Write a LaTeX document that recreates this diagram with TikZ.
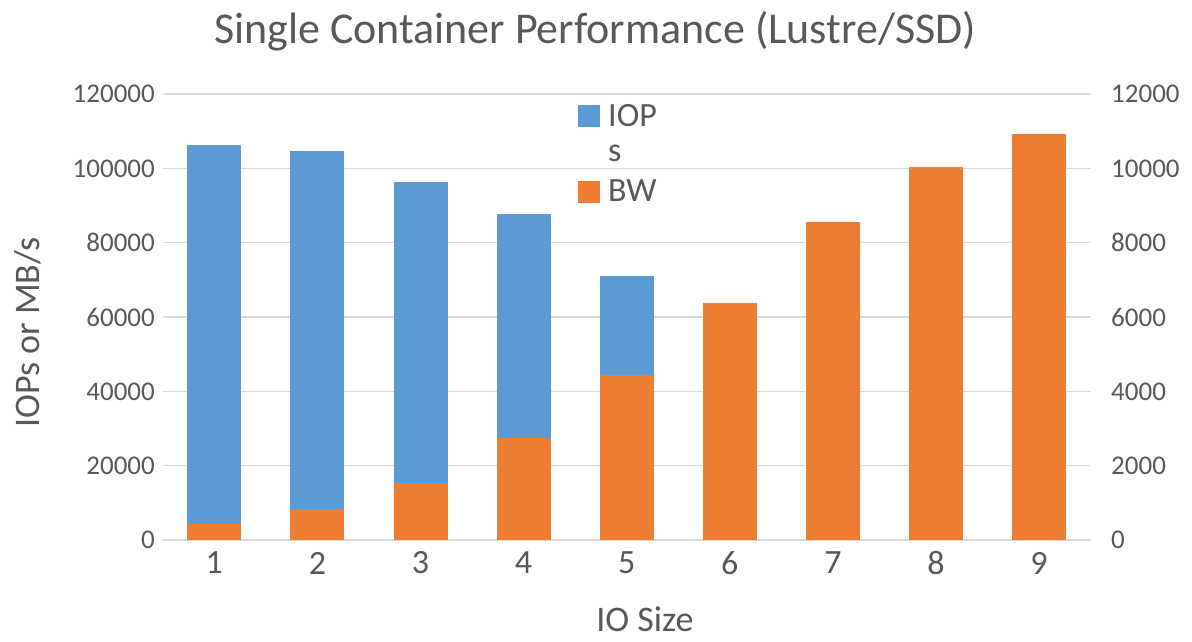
\documentclass[tikz,border=0pt]{standalone}
\usepackage{fontspec}
\setmainfont{Carlito}
\definecolor{iopblue}{HTML}{5B9BD5}
\definecolor{bworange}{HTML}{ED7D31}
\definecolor{txtgray}{HTML}{595959}
\definecolor{gridgray}{HTML}{D9D9D9}
\tikzset{
  gridline/.style={draw=gridgray, line width=1.6pt},
  ticklab/.style={text=txtgray, inner sep=0pt, font=\fontsize{27}{30}\selectfont},
  catlab/.style={text=txtgray, inner sep=0pt, font=\fontsize{34}{38}\selectfont},
  axtitle/.style={text=txtgray, inner sep=0pt, font=\fontsize{36}{40}\selectfont},
  legtext/.style={text=txtgray, inner sep=0pt, font=\fontsize{34}{38}\selectfont, anchor=base west},
  iopbar/.style={fill=iopblue},
  bwbar/.style={fill=bworange}
}
\begin{document}
\begin{tikzpicture}[x=1pt,y=-1pt]
\useasboundingbox[fill=white] (0,0) rectangle (1192,641);
% title
\node[text=txtgray, inner sep=0pt, anchor=base, font=\fontsize{44}{48}\selectfont] (title) at (595,43) {Single Container Performance (Lustre/SSD)};
% gridlines
\foreach \i in {0,...,6}
  \draw[gridline] (162.7,{540-74.33*\i}) -- (1090.7,{540-74.33*\i});
% left tick labels
\foreach \i/\v in {0/0,1/20000,2/40000,3/60000,4/80000,5/100000,6/120000}
  \node[ticklab, anchor=east] (L\i) at (155,{540-74.33*\i}) {\v};
% right tick labels
\foreach \i/\v in {0/0,1/2000,2/4000,3/6000,4/8000,5/10000,6/12000}
  \node[ticklab, anchor=west] (R\i) at (1111,{540-74.33*\i}) {\v};
% IOPs bars
\foreach \i/\h in {1/395,2/389,3/358,4/326,5/264}
  \fill[iopbar] ({214.3+103.1*(\i-1)-27},540) rectangle +(54,-\h);
% BW bars
\foreach \i/\h in {1/16.3,2/31,3/56.7,4/102.3,5/165,6/237,7/318,8/373,9/406}
  \fill[bwbar] ({214.3+103.1*(\i-1)-27},540) rectangle +(54,-\h);
% category labels
\foreach \i in {1,...,9}
  \node[catlab] (C\i) at ({214.3+103.1*(\i-1)},563) {\i};
% axis titles
\node[axtitle, anchor=base] (xtitle) at (645,631) {IO Size};
\node[axtitle, anchor=base, rotate=90] (ytitle) at (39,332.5) {IOPs or MB/s};
% legend
\fill[iopblue] (578,105) rectangle (600,127);
\node[legtext] (leg1) at (608,126) {IOP};
\node[legtext] (leg1b) at (608,161) {s};
\fill[bworange] (578,181) rectangle (600,203);
\node[legtext] (leg2) at (608,201) {BW};
\end{tikzpicture}
\end{document}
